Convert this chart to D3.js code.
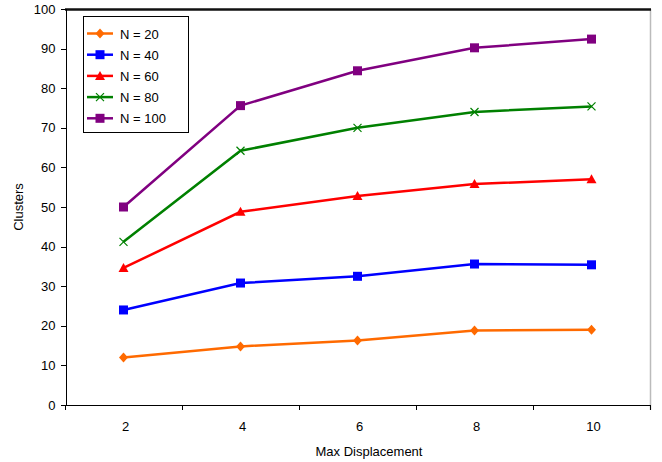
<!DOCTYPE html>
<head>
  <meta charset="utf-8">
  <style>
    body { margin: 0; background: #fff; }
    .axis text { font-family: Arial, "Liberation Sans", sans-serif; font-size: 13px; fill: #000; }
    .axis path, .axis line { stroke: #000; shape-rendering: crispEdges; }
    .lbl { font-family: Arial, "Liberation Sans", sans-serif; font-size: 13px; fill: #000; }
  </style>
  <script src="https://cdnjs.cloudflare.com/ajax/libs/d3/7.8.5/d3.min.js"></script>
</head>
<body>
<script>
  const displacement = [2, 4, 6, 8, 10];
  const yTicks = [0, 10, 20, 30, 40, 50, 60, 70, 80, 90, 100];
  const seriesNames = ['N = 20', 'N = 40', 'N = 60', 'N = 80', 'N = 100'];
  const n20 = [12.0, 14.8, 16.3, 18.8, 19.0];
  const n40 = [24.0, 30.8, 32.5, 35.6, 35.4];
  const n60 = [34.6, 48.8, 52.8, 55.8, 57.0];
  const n80 = [41.2, 64.2, 70.0, 74.0, 75.4];
  const n100 = [50.0, 75.6, 84.4, 90.2, 92.4];

  const colors = ['#ff6a00', '#0000ff', '#ff0000', '#008000', '#800080'];
  const markers = ['diamond', 'square', 'triangle', 'cross', 'square'];
  const series = [n20, n40, n60, n80, n100].map((vals, i) => ({
    name: seriesNames[i], vals: vals, color: colors[i], marker: markers[i]
  }));

  const w = 662, h = 462;
  const padL = 65, padR = 650, padT = 9, padB = 405;

  const svg = d3.select('body').append('svg')
      .attr('width', w).attr('height', h);

  const xScale = d3.scaleBand()
      .domain(displacement)
      .range([padL, padR]);

  const yScale = d3.scaleLinear()
      .domain([0, 100])
      .range([padB, padT]);

  // right border (grey) and top border (dark)
  svg.append('line')
      .attr('x1', padR + 0.5).attr('x2', padR + 0.5)
      .attr('y1', padT).attr('y2', padB + 5)
      .attr('stroke', '#bbb').attr('stroke-width', 1.5);
  svg.append('line')
      .attr('x1', padL).attr('x2', padR + 1)
      .attr('y1', padT + 0.5).attr('y2', padT + 0.5)
      .attr('stroke', '#111').attr('stroke-width', 2.5);

  // x axis with ticks at band edges
  const xAxis = svg.append('g')
      .attr('class', 'axis')
      .attr('transform', `translate(0, ${padB})`);
  xAxis.append('line')
      .attr('x1', padL).attr('x2', padR + 1)
      .attr('y1', 0.5).attr('y2', 0.5)
      .attr('stroke', '#000');
  const edges = displacement.map(d => xScale(d)).concat([padR]);
  xAxis.selectAll('.edge').data(edges).enter().append('line')
      .attr('class', 'edge')
      .attr('x1', d => Math.round(d) + 0.5).attr('x2', d => Math.round(d) + 0.5)
      .attr('y1', 0).attr('y2', 5)
      .attr('stroke', '#000');
  xAxis.selectAll('text').data(displacement).enter().append('text')
      .attr('x', d => xScale(d) + xScale.bandwidth() / 2 + 2)
      .attr('y', 26)
      .attr('text-anchor', 'middle')
      .text(d => d);

  const yAxis = d3.axisLeft(yScale).tickValues(yTicks).tickSize(5).tickPadding(5);
  svg.append('g')
      .attr('class', 'axis')
      .attr('transform', `translate(${padL + 0.5}, 0)`)
      .call(yAxis);

  svg.append('text')
      .attr('class', 'lbl')
      .attr('x', 369).attr('y', 456)
      .attr('text-anchor', 'middle')
      .text('Max Displacement');

  svg.append('text')
      .attr('class', 'lbl')
      .attr('transform', `translate(23, ${(padT + padB) / 2}) rotate(-90)`)
      .attr('text-anchor', 'middle')
      .text('Clusters');

  const cx = d => xScale(d) + xScale.bandwidth() / 2;
  const line = d3.line()
      .x((v, i) => cx(displacement[i]))
      .y(v => yScale(v));

  function drawMarker(g, type, color, x, y) {
    if (type === 'square') {
      g.append('rect').attr('x', x - 4.5).attr('y', y - 4.5)
        .attr('width', 9).attr('height', 9).attr('fill', color);
    } else if (type === 'diamond') {
      g.append('path')
        .attr('d', `M${x},${y - 5}L${x + 4.5},${y}L${x},${y + 5}L${x - 4.5},${y}Z`)
        .attr('fill', color);
    } else if (type === 'triangle') {
      g.append('path')
        .attr('d', `M${x},${y - 5}L${x + 5},${y + 4}L${x - 5},${y + 4}Z`)
        .attr('fill', color);
    } else if (type === 'cross') {
      g.append('path')
        .attr('d', `M${x - 4},${y - 4}L${x + 4},${y + 4}M${x - 4},${y + 4}L${x + 4},${y - 4}`)
        .attr('stroke', color).attr('stroke-width', 1.2).attr('fill', 'none');
    }
  }

  series.forEach(s => {
    const g = svg.append('g');
    g.append('path')
      .attr('d', line(s.vals))
      .attr('fill', 'none')
      .attr('stroke', s.color)
      .attr('stroke-width', 2.5);
    s.vals.forEach((v, i) => drawMarker(g, s.marker, s.color, cx(displacement[i]), yScale(v)));
  });

  // legend
  const legend = svg.append('g');
  legend.append('rect')
      .attr('x', 83.5).attr('y', 16.5)
      .attr('width', 105).attr('height', 116)
      .attr('fill', '#fff').attr('stroke', '#000');
  series.forEach((s, i) => {
    const y = 33.5 + i * 21.2;
    legend.append('line')
      .attr('x1', 87).attr('x2', 113)
      .attr('y1', y).attr('y2', y)
      .attr('stroke', s.color).attr('stroke-width', 2.5);
    drawMarker(legend, s.marker, s.color, 100, y);
    legend.append('text')
      .attr('class', 'lbl')
      .attr('x', 120).attr('y', y + 5)
      .text(s.name);
  });
</script>
</body>
